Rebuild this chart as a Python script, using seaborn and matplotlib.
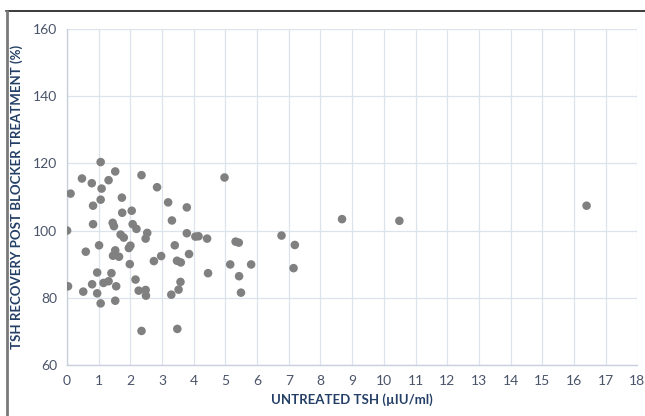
import numpy as np
import pandas as pd
import matplotlib
matplotlib.use("Agg")
import matplotlib.pyplot as plt
from matplotlib.lines import Line2D
import seaborn as sns

# values
untreated_tsh = [
    1.06, 0.47, 0.78, 1.52, 1.31, 1.09, 2.35, 0.11, 1.06, 0.82,
    1.73, 2.84, 3.19, 3.78, 2.04, 1.74, 3.31, 0.82, 1.44, 1.48,
    2.07, 2.19, 0.00, 2.53, 2.48, 1.69, 1.79, 3.78, 4.05, 4.15,
    1.01, 2.00, 1.95, 1.52, 0.59, 1.45, 1.64, 3.40, 2.97, 2.74,
    3.47, 3.59, 3.85, 1.98, 0.95, 1.40, 0.03, 0.79, 1.15, 1.31,
    1.55, 2.16, 0.51, 0.95, 2.26, 2.48, 2.49, 3.29, 3.52, 3.58,
    1.06, 1.52, 2.35, 3.48, 4.42, 4.45, 4.97, 5.32, 5.42, 5.15,
    5.81, 5.43, 5.49, 6.77, 7.19, 7.15, 8.68, 10.49, 16.40,
]
recovery_pct = [
    120.4, 115.5, 114.1, 117.6, 115.0, 112.5, 116.5, 111.0, 109.2, 107.4,
    109.8, 112.9, 108.4, 106.9, 105.9, 105.3, 103.0, 101.9, 102.3, 101.3,
    101.9, 100.5, 100.0, 99.3, 97.6, 98.8, 97.9, 99.2, 98.2, 98.3,
    95.6, 95.5, 94.8, 94.1, 93.7, 92.5, 92.2, 95.6, 92.4, 90.9,
    91.0, 90.5, 93.0, 90.0, 87.5, 87.3, 83.4, 84.0, 84.4, 84.9,
    83.4, 85.4, 81.8, 81.3, 82.1, 82.3, 80.6, 80.9, 82.4, 84.7,
    78.3, 79.1, 70.1, 70.7, 97.6, 87.3, 115.8, 96.7, 96.4, 89.9,
    89.9, 86.4, 81.5, 98.5, 95.7, 88.8, 103.4, 102.9, 107.4,
]
x_ticks = list(range(0, 19))
y_ticks = [60, 80, 100, 120, 140, 160]

df = pd.DataFrame({"tsh": untreated_tsh, "recovery": recovery_pct})

sns.set_style("white")
plt.rcParams["font.family"] = ["Lato", "DejaVu Sans"]

fig = plt.figure(figsize=(6.45, 4.16), dpi=100)
ax = fig.add_axes([0.104, 0.123, 0.884, 0.807])

# frame of the original picture: only top and left edges are visible
W, H = 645, 416
fig.add_artist(Line2D([6 / W, 1.0], [1 - 11 / H, 1 - 11 / H],
                      transform=fig.transFigure, color="#3a3a3a", lw=1.4))
fig.add_artist(Line2D([7 / W, 7 / W], [1 - 11 / H, 0.0],
                      transform=fig.transFigure, color="#7a7a7a", lw=2.0))

sns.scatterplot(data=df, x="tsh", y="recovery", ax=ax, color="#808080",
                s=38, edgecolor="none", zorder=3)

ax.set_xlim(0, 18)
ax.set_ylim(60, 160)
ax.set_xticks(x_ticks)
ax.set_yticks(y_ticks)
ax.grid(True, color="#dde3ec", linewidth=0.9)
for side in ["top", "right"]:
    ax.spines[side].set_visible(False)
for side in ["left", "bottom"]:
    ax.spines[side].set_color("#c8d0dc")
    ax.spines[side].set_linewidth(1.0)

ax.tick_params(axis="both", length=0, labelsize=10, colors="#4a5468", pad=7)
ax.set_xlabel("UNTREATED TSH (\u00b5IU/ml)", fontsize=9.5, fontweight="bold",
              color="#243f66", labelpad=5)
ax.set_ylabel("TSH RECOVERY POST BLOCKER TREATMENT (%)", fontsize=9.5,
              fontweight="bold", color="#243f66", labelpad=7)

fig.savefig("out.png", dpi=100)
